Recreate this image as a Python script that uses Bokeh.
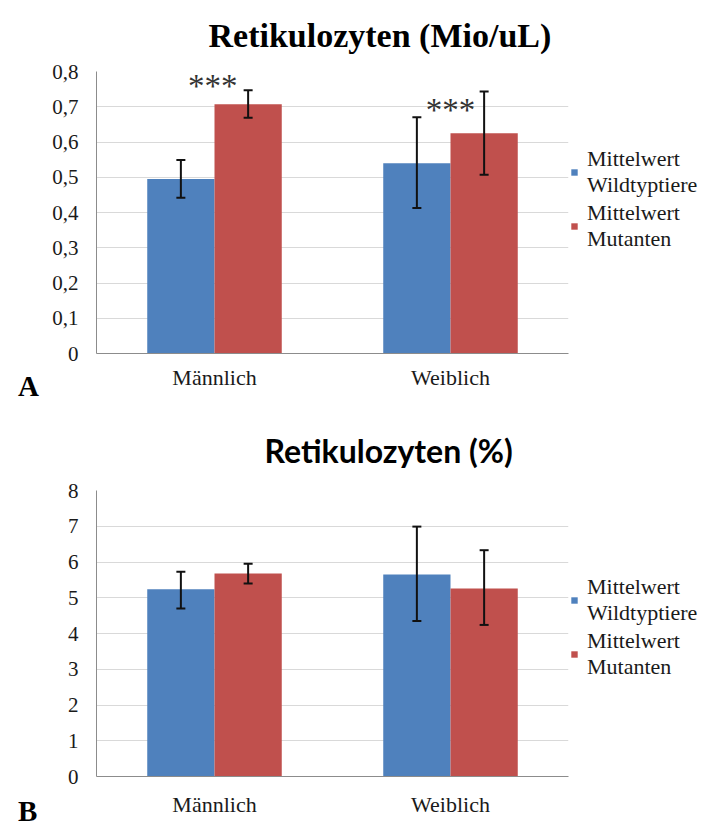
from bokeh.plotting import figure
from bokeh.layouts import column
from bokeh.models import (ColumnDataSource, FactorRange, Range1d, Whisker, TeeHead,
                          Legend, LegendItem, Label, FixedTicker)
from bokeh.transform import dodge
from bokeh.embed import file_html
from bokeh.resources import INLINE

# ---------------- data ----------------
categories = ["Männlich", "Weiblich"]
series_names = ["Mittelwert\nWildtyptiere", "Mittelwert\nMutanten"]

# Panel A: Retikulozyten (Mio/uL)
a_wt = [0.495, 0.540]
a_wt_lo = [0.442, 0.413]
a_wt_hi = [0.549, 0.670]
a_mut = [0.707, 0.625]
a_mut_lo = [0.669, 0.507]
a_mut_hi = [0.747, 0.743]
a_ticks = [0, 0.1, 0.2, 0.3, 0.4, 0.5, 0.6, 0.7, 0.8]
a_tick_labels = ["0", "0,1", "0,2", "0,3", "0,4", "0,5", "0,6", "0,7", "0,8"]
a_stars = ["***", "***"]

# Panel B: Retikulozyten (%)
b_wt = [5.24, 5.65]
b_wt_lo = [4.70, 4.35]
b_wt_hi = [5.73, 6.99]
b_mut = [5.68, 5.26]
b_mut_lo = [5.40, 4.24]
b_mut_hi = [5.95, 6.33]
b_ticks = [0, 1, 2, 3, 4, 5, 6, 7, 8]
b_tick_labels = ["0", "1", "2", "3", "4", "5", "6", "7", "8"]

BLUE = "#4F81BD"
RED = "#C0504D"
SERIF = "Liberation Serif"
OFF = 0.1425
BW = 0.285


def make_panel(width, height, borders, ymax, ticks, tick_labels, wt, wt_lo, wt_hi,
               mut, mut_lo, mut_hi, title, title_font, title_size, title_offset,
               title_standoff, letter, letter_loc, legend_loc, tick_standoff, x_standoff):
    src = ColumnDataSource(dict(cat=categories, wt=wt, wt_lo=wt_lo, wt_hi=wt_hi,
                                mut=mut, mut_lo=mut_lo, mut_hi=mut_hi))
    p = figure(width=width, height=height, x_range=FactorRange(*categories, range_padding=0),
               y_range=Range1d(0, ymax), output_backend="svg", toolbar_location=None,
               min_border_left=borders[0], min_border_right=borders[1],
               min_border_top=borders[2], min_border_bottom=borders[3],
               title=title)
    p.outline_line_color = None
    p.background_fill_color = "white"
    p.border_fill_color = "white"

    p.title.text_font = title_font
    p.title.text_font_size = title_size
    p.title.text_font_style = "bold"
    p.title.text_color = "#000000"
    p.title.align = "left"
    p.title.vertical_align = "top"
    p.title.offset = title_offset
    p.title.standoff = title_standoff

    r1 = p.vbar(x=dodge("cat", -OFF, range=p.x_range), top="wt", width=BW, source=src,
                fill_color=BLUE, line_color=None)
    r2 = p.vbar(x=dodge("cat", OFF, range=p.x_range), top="mut", width=BW, source=src,
                fill_color=RED, line_color=None)

    for off, lo, hi in [(-OFF, "wt_lo", "wt_hi"), (OFF, "mut_lo", "mut_hi")]:
        w = Whisker(source=src, base=dodge("cat", off, range=p.x_range), lower=lo, upper=hi,
                    line_color="#111111", line_width=2, level="overlay",
                    upper_head=TeeHead(size=9, line_width=2, line_color="#111111"),
                    lower_head=TeeHead(size=9, line_width=2, line_color="#111111"))
        p.add_layout(w)

    # axes
    p.yaxis.ticker = FixedTicker(ticks=ticks)
    p.yaxis.major_label_overrides = {t: l for t, l in zip(ticks, tick_labels)}
    p.yaxis.major_label_text_font = SERIF
    p.yaxis.major_label_text_font_size = "21px"
    p.yaxis.major_label_text_color = "#1a1a1a"
    p.yaxis.major_label_standoff = tick_standoff
    p.yaxis.axis_line_color = "#8c8c8c"
    p.yaxis.major_tick_line_color = None
    p.yaxis.minor_tick_line_color = None
    p.yaxis.major_tick_out = 0
    p.yaxis.major_tick_in = 0

    p.xaxis.major_label_text_font = SERIF
    p.xaxis.major_label_text_font_size = "22px"
    p.xaxis.major_label_text_color = "#1a1a1a"
    p.xaxis.major_label_standoff = x_standoff
    p.xaxis.axis_line_color = "#8c8c8c"
    p.xaxis.major_tick_line_color = None
    p.xaxis.minor_tick_line_color = None
    p.xaxis.major_tick_out = 0
    p.xaxis.major_tick_in = 0

    p.xgrid.grid_line_color = None
    p.ygrid.grid_line_color = "#d9d9d9"
    p.ygrid.ticker = FixedTicker(ticks=ticks)

    # series legend in the right side panel
    legend = Legend(items=[LegendItem(label=series_names[0], renderers=[r1]),
                           LegendItem(label=series_names[1], renderers=[r2])],
                    location=legend_loc, orientation="vertical",
                    label_text_font=SERIF, label_text_font_size="22px",
                    label_text_line_height=0.8,
                    label_text_color="#1a1a1a", glyph_width=8, glyph_height=8,
                    label_standoff=9, padding=0, margin=0, spacing=2,
                    border_line_color=None, background_fill_alpha=0)
    p.add_layout(legend, "right")

    # panel letter, as a glyph-less legend entry in the left side panel
    dummy = p.scatter(x=[], y=[], size=0, fill_alpha=0, line_alpha=0)
    letter_legend = Legend(items=[LegendItem(label=letter, renderers=[dummy])],
                           location=letter_loc, label_text_font=SERIF,
                           label_text_font_size="29px", label_text_font_style="bold",
                           label_text_color="#000000", glyph_width=0, glyph_height=0,
                           label_standoff=0, padding=0, margin=0,
                           border_line_color=None, background_fill_alpha=0)
    p.add_layout(letter_legend, "left")
    return p


# frame A: left 95, right 575, top 71, bottom 353 ; fig 715x412
pa = make_panel(715, 412, (95, 140, 71, 59), 0.8, a_ticks, a_tick_labels,
                a_wt, a_wt_lo, a_wt_hi, a_mut, a_mut_lo, a_mut_hi,
                "Retikulozyten (Mio/uL)", SERIF, "34px", 112, 31,
                "A", (-482, -283), (2, 101), 18, 11)

pa.add_layout(Label(x=0.493, y=0.758, text=a_stars[0], text_font=SERIF, text_font_size="33px",
                    text_align="center", text_baseline="alphabetic", text_color="#333333"))
pa.add_layout(Label(x=1.5, y=0.692, text=a_stars[1], text_font=SERIF, text_font_size="33px",
                    text_align="center", text_baseline="alphabetic", text_color="#333333"))

# frame B: left 84, right 575, top 77, bottom 364 ; fig 715x413
pb = make_panel(715, 413, (84, 140, 77, 49), 8, b_ticks, b_tick_labels,
                b_wt, b_wt_lo, b_wt_hi, b_mut, b_mut_lo, b_mut_hi,
                "Retikulozyten (%)", "Lato", "32px", 168, 37,
                "B", (-482, -285), (2, 96), 18, 15)

layout = column(pa, pb, spacing=0)
open("out.html", "w").write(file_html(layout, INLINE))
